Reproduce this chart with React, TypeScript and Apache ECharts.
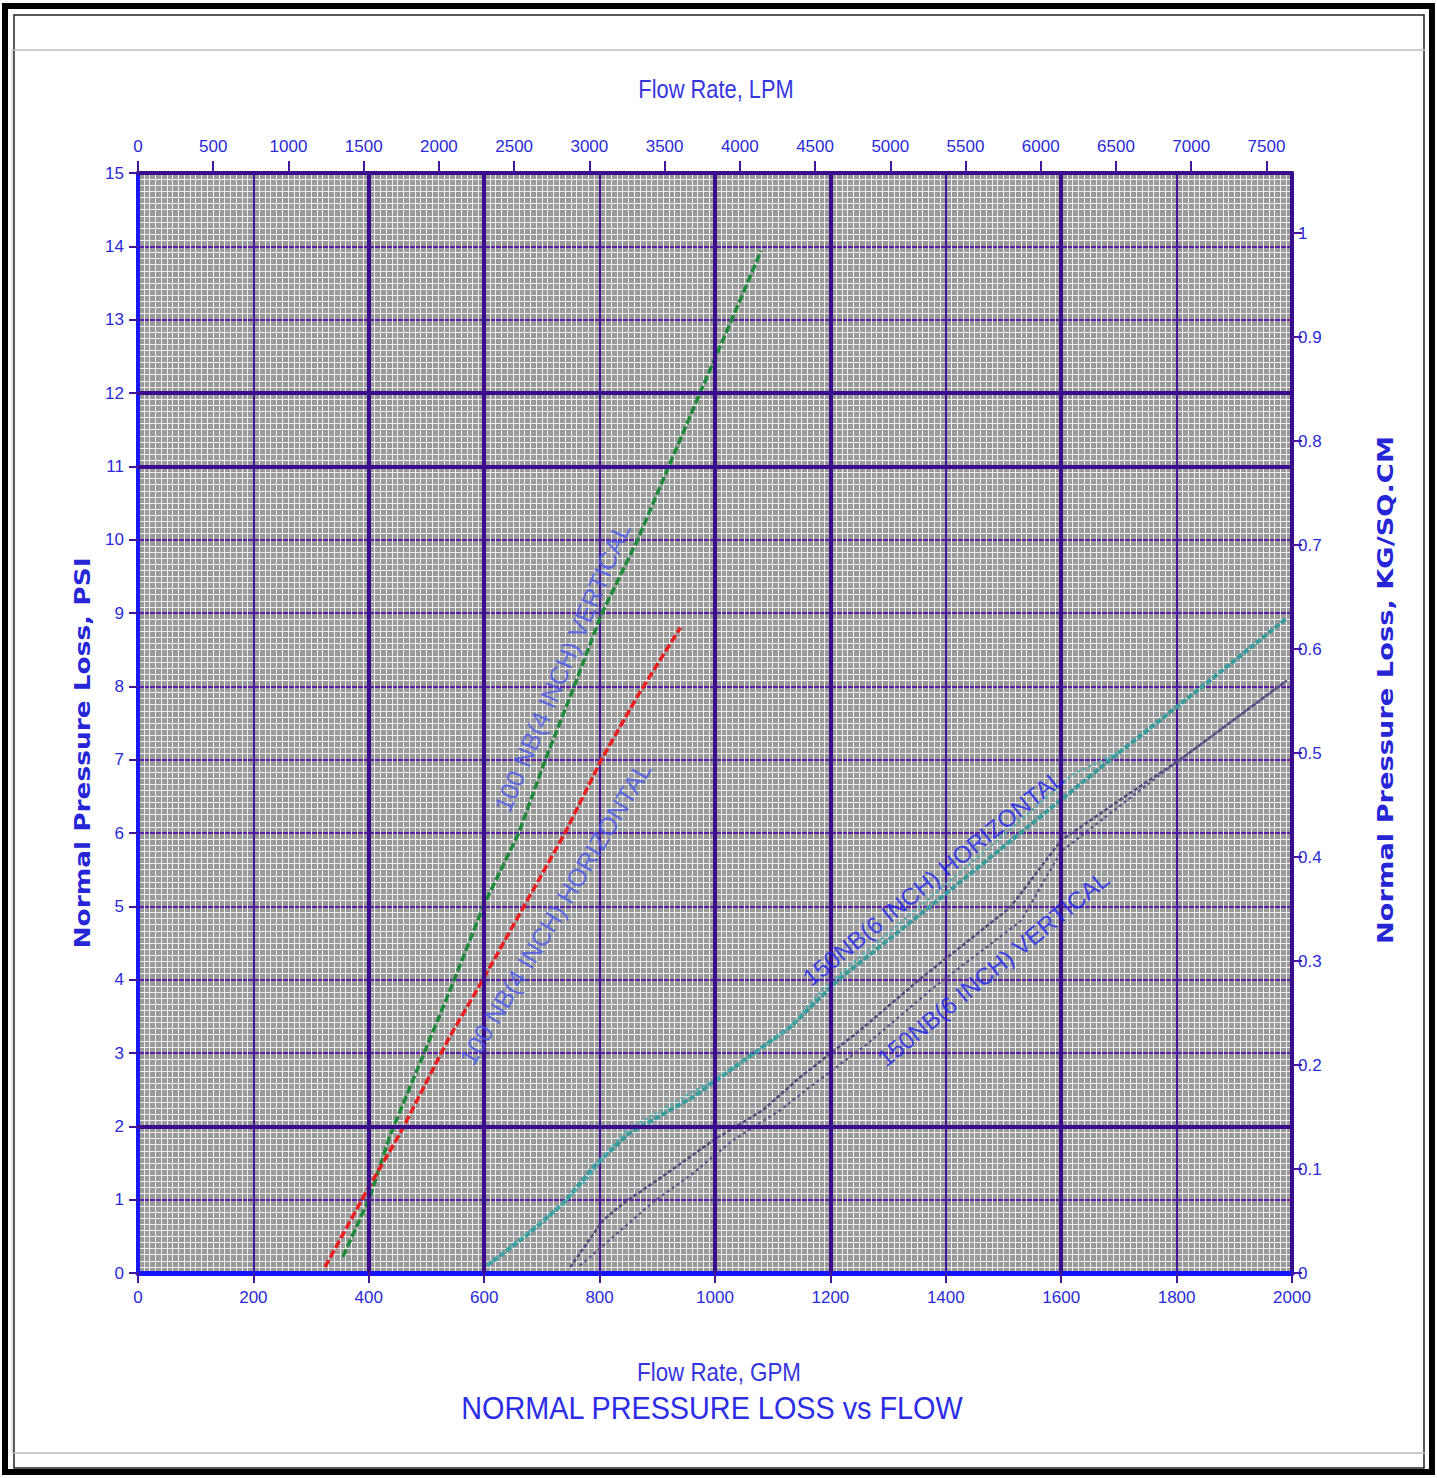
import { useEffect, useRef } from "react";
import * as echarts from "echarts";

// ---- axis ranges ----
const GPM_MAX = 2000;
const LPM_MAX = 7670;
const PSI_MAX = 15;
const KG_MAX = 1.0577;

// ---- curves: [flow GPM, pressure loss PSI] ----
const nb100Vertical = [
  [355, 0.22], [402, 1.04], [437, 1.88], [540, 3.84], [600, 5.03], [660, 6.0],
  [706, 7.0], [754, 7.96], [803, 8.98], [866, 10.0], [920, 11.0], [974, 12.0],
  [1029, 13.0], [1080, 13.94],
];
const nb100Horizontal = [
  [324, 0.08], [397, 1.13], [454, 1.9], [540, 3.22], [597, 3.99], [671, 5.03],
  [740, 6.0], [803, 7.0], [866, 7.87], [940, 8.8],
];
const nb150HorizontalMain = [
  [605, 0.1], [679, 0.55], [737, 0.95], [790, 1.45], [850, 1.9], [893, 2.09],
  [962, 2.4], [1043, 2.86], [1130, 3.35], [1214, 4.0], [1373, 5.0], [1529, 6.0],
  [1685, 7.0], [1845, 8.0], [1991, 8.93],
];
const nb150HorizontalTrace = [
  [605, 0.1], [737, 0.95], [783, 1.31], [812, 1.64], [847, 1.95], [917, 2.27],
  [997, 2.63], [1073, 3.0], [1130, 3.36], [1190, 3.9], [1340, 4.9], [1490, 5.9],
  [1620, 6.8], [1700, 7.1],
];
const nb150VerticalMain = [
  [749, 0.08], [806, 0.72], [841, 0.95], [917, 1.36], [997, 1.81], [1083, 2.22],
  [1146, 2.66], [1250, 3.3], [1357, 4.02], [1511, 4.98], [1600, 5.9], [1711, 6.5],
  [1806, 7.0], [1991, 8.08],
];
const nb150VerticalTrace = [
  [766, 0.1], [893, 0.97], [962, 1.36], [1031, 1.81], [1113, 2.22], [1165, 2.54],
  [1260, 3.1], [1380, 3.9], [1530, 4.8], [1600, 5.75], [1690, 6.3], [1794, 6.93],
  [1991, 8.08],
];

// ---- curve annotations ----
const curveLabelTexts = [
  "100 NB(4 INCH) VERTICAL",
  "100 NB(4 INCH) HORIZONTAL",
  "150NB(6 INCH) HORIZONTAL",
  "150NB(6 INCH) VERTICAL",
];
const curveLabelAt = [
  [735, 8.26],
  [723, 4.9],
  [1378, 5.39],
  [1482, 4.15],
];
const curveLabelAngle = [67, 59, 39, 39.5];

// ---- heavier grid lines ----
const heavyGpmLines = [400, 600, 1000, 1200, 1600];
const heavyPsiLines = [2, 11, 12];

const BLUE = "#2a2ad8";
const PURPLE = "#45159a";
const FONT = '"Liberation Sans", Arial, sans-serif';
const plain = (v: number) => String(v);

function buildOption() {
  const labelStyles = [
    { fontSize: 25, color: "#4656ec" },
    { fontSize: 25, color: "#4656ec" },
    { fontSize: 24, color: "#1a22f0" },
    { fontSize: 24, color: "#1a22f0" },
  ];
  return {
    animation: false,
    backgroundColor: "#ffffff",
    grid: {
      left: 138,
      top: 173,
      width: 1154,
      height: 1100,
      show: true,
      backgroundColor: "#9a9a9a",
      borderWidth: 0,
    },
    xAxis: [
      {
        type: "value",
        position: "bottom",
        min: 0,
        max: GPM_MAX,
        interval: 200,
        axisLine: { show: true, onZero: false, lineStyle: { color: "#1414ff", width: 5 } },
        axisTick: { show: true, length: 10, lineStyle: { color: PURPLE, width: 2 } },
        axisLabel: { color: BLUE, fontSize: 17, fontFamily: FONT, margin: 16, formatter: plain },
        splitLine: { show: true, lineStyle: { color: PURPLE, width: 2 } },
        minorTick: { show: false, splitNumber: 20 },
        minorSplitLine: { show: true, lineStyle: { color: "#efefef", width: 1 } },
      },
      {
        type: "value",
        position: "top",
        min: 0,
        max: LPM_MAX,
        interval: 500,
        axisLine: { show: true, onZero: false, lineStyle: { color: "#3a0d8c", width: 4 } },
        axisTick: { show: true, length: 12, lineStyle: { color: PURPLE, width: 2 } },
        axisLabel: { color: BLUE, fontSize: 17, fontFamily: FONT, margin: 18, showMaxLabel: false, formatter: plain },
        splitLine: { show: false },
      },
    ],
    yAxis: [
      {
        type: "value",
        position: "left",
        min: 0,
        max: PSI_MAX,
        interval: 1,
        axisLine: { show: true, onZero: false, lineStyle: { color: "#1818f0", width: 4 } },
        axisTick: { show: true, length: 9, lineStyle: { color: PURPLE, width: 2 } },
        axisLabel: { color: BLUE, fontSize: 17, fontFamily: FONT, margin: 14, formatter: plain },
        splitLine: { show: true, lineStyle: { color: "#5a1ea6", width: 2 } },
        minorTick: { show: false, splitNumber: 12 },
        minorSplitLine: { show: true, lineStyle: { color: "#efefef", width: 1 } },
      },
      {
        type: "value",
        position: "right",
        min: 0,
        max: KG_MAX,
        interval: 0.1,
        axisLine: { show: true, onZero: false, lineStyle: { color: "#3a0d8c", width: 4 } },
        axisTick: { show: true, length: 10, lineStyle: { color: PURPLE, width: 2 } },
        axisLabel: { color: BLUE, fontSize: 17, fontFamily: FONT, margin: 6, showMaxLabel: false },
        splitLine: { show: false },
      },
    ],
    series: [
      {
        type: "line",
        data: [],
        silent: true,
        z: 1,
        markLine: {
          silent: true,
          symbol: ["none", "none"],
          label: { show: false },
          lineStyle: { color: "#3c0c8e", width: 4, type: "solid" },
          data: [
            ...heavyGpmLines.map((v) => ({ xAxis: v })),
            ...heavyPsiLines.map((v) => ({ yAxis: v })),
          ],
        },
      },
      {
        type: "line",
        name: "100 NB(4 INCH) VERTICAL",
        data: nb100Vertical,
        showSymbol: false,
        z: 3,
        lineStyle: { color: "#1e8a3a", width: 3.5, type: [8, 3] },
      },
      {
        type: "line",
        name: "100 NB(4 INCH) HORIZONTAL",
        data: nb100Horizontal,
        showSymbol: false,
        z: 3,
        lineStyle: { color: "#ec1e1e", width: 3.5, type: [8, 3] },
      },
      {
        type: "line",
        name: "150NB(6 INCH) HORIZONTAL",
        data: nb150HorizontalMain,
        showSymbol: false,
        z: 3,
        lineStyle: { color: "#3a9c9c", width: 4, type: [6, 2] },
      },
      {
        type: "line",
        name: "150NB(6 INCH) HORIZONTAL trace",
        data: nb150HorizontalTrace,
        showSymbol: false,
        z: 3,
        lineStyle: { color: "#4cb0b0", width: 2, type: [3, 3] },
      },
      {
        type: "line",
        name: "150NB(6 INCH) VERTICAL",
        data: nb150VerticalMain,
        showSymbol: false,
        z: 3,
        lineStyle: { color: "#564a7e", width: 2.5, type: [4, 2] },
      },
      {
        type: "line",
        name: "150NB(6 INCH) VERTICAL trace",
        data: nb150VerticalTrace,
        showSymbol: false,
        z: 3,
        lineStyle: { color: "#5e5288", width: 2.2, type: [3, 3] },
      },
      {
        type: "scatter",
        silent: true,
        symbolSize: 1,
        itemStyle: { color: "transparent" },
        z: 6,
        label: {
          show: true,
          position: "inside",
          formatter: "{b}",
          fontFamily: FONT,
        },
        data: curveLabelTexts.map((t, i) => ({
          name: t,
          value: curveLabelAt[i],
          label: { rotate: curveLabelAngle[i], ...labelStyles[i] },
        })),
      },
    ],
    graphic: [
      { type: "rect", shape: { x: 5, y: 6, width: 1427, height: 1466 }, style: { fill: "none", stroke: "#000", lineWidth: 6 } },
      { type: "rect", shape: { x: 14, y: 15, width: 1410, height: 1453 }, style: { fill: "none", stroke: "#222", lineWidth: 1.5 } },
      { type: "line", shape: { x1: 12, y1: 50, x2: 1425, y2: 50 }, style: { stroke: "#bdbdbd", lineWidth: 1.5 } },
      { type: "line", shape: { x1: 12, y1: 1453, x2: 1425, y2: 1453 }, style: { stroke: "#bdbdbd", lineWidth: 1.5 } },
      { type: "line", shape: { x1: 12, y1: 50, x2: 12, y2: 1453 }, style: { stroke: "#c8c8c8", lineWidth: 1 } },
      {
        type: "text", x: 716, y: 89, scaleX: 0.84,
        style: { text: "Flow Rate, LPM", fill: "#3535e0", fontSize: 26, fontFamily: FONT, align: "center", verticalAlign: "middle", textAlign: "center", textVerticalAlign: "middle" },
      },
      {
        type: "text", x: 719, y: 1372, scaleX: 0.86,
        style: { text: "Flow Rate, GPM", fill: "#3535e0", fontSize: 26, fontFamily: FONT, align: "center", verticalAlign: "middle", textAlign: "center", textVerticalAlign: "middle" },
      },
      {
        type: "text", x: 712, y: 1407, scaleX: 0.9,
        style: { text: "NORMAL PRESSURE LOSS vs FLOW", fill: "#2c2ce6", fontSize: 32, fontFamily: FONT, align: "center", verticalAlign: "middle", textAlign: "center", textVerticalAlign: "middle" },
      },
      {
        type: "text", x: 82, y: 753, rotation: Math.PI / 2, scaleX: 1.2,
        style: { text: "Normal Pressure Loss, PSI", fill: "#2626d6", fontSize: 22, fontWeight: "bold", fontFamily: '"DejaVu Sans", sans-serif', align: "center", verticalAlign: "middle", textAlign: "center", textVerticalAlign: "middle" },
      },
      {
        type: "text", x: 1385, y: 690, rotation: Math.PI / 2, scaleX: 1.24,
        style: { text: "Normal Pressure Loss, KG/SQ.CM", fill: "#2626d6", fontSize: 22, fontWeight: "bold", fontFamily: '"DejaVu Sans", sans-serif', align: "center", verticalAlign: "middle", textAlign: "center", textVerticalAlign: "middle" },
      },
    ],
  };
}

export default function App() {
  const ref = useRef<HTMLDivElement>(null);
  useEffect(() => {
    if (!ref.current) return;
    const chart = echarts.init(ref.current, null, { renderer: "svg" });
    chart.setOption(buildOption() as any);
    return () => chart.dispose();
  }, []);
  return (
    <div
      ref={ref}
      style={{ position: "absolute", left: 0, top: 0, width: 1437, height: 1478, background: "#fff" }}
    />
  );
}
